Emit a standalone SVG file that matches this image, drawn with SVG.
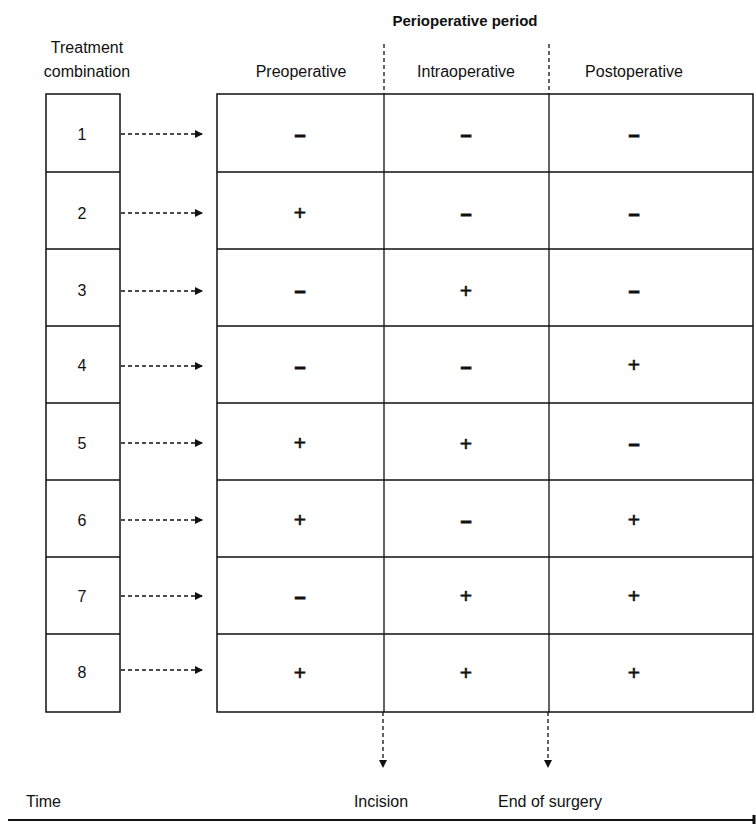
<svg xmlns="http://www.w3.org/2000/svg" width="756" height="824" viewBox="0 0 756 824">
<style>
text{font-family:"Liberation Sans","Arial",sans-serif;fill:#111;}
.lbl{font-size:16px;text-anchor:middle;}
.num{font-size:16px;text-anchor:middle;}
.plus{font-size:21px;text-anchor:middle;stroke:#111;stroke-width:0.6;}
.minus{font-size:20px;font-weight:bold;text-anchor:middle;stroke:#111;stroke-width:0.8;}
.box{fill:#fff;stroke:#111;stroke-width:1.5;}
.grid{stroke:#111;stroke-width:1.3;fill:none;}
.dash{stroke:#111;stroke-width:1.3;stroke-dasharray:4,3;fill:none;}
</style>
<defs>
<marker id="ah" viewBox="0 0 10 10" refX="10" refY="5" markerWidth="10" markerHeight="8" markerUnits="userSpaceOnUse" orient="auto"><path d="M0,0 L10,5 L0,10 z" fill="#111"/></marker>
</defs>
<text x="465" y="26" font-size="15" font-weight="bold" text-anchor="middle">Perioperative period</text>
<text x="87" y="53" class="lbl">Treatment</text>
<text x="87" y="77" class="lbl">combination</text>
<text x="301" y="77" class="lbl">Preoperative</text>
<text x="466" y="77" class="lbl">Intraoperative</text>
<text x="634" y="77" class="lbl">Postoperative</text>

<g id="combos">
<rect x="46" y="94" width="74" height="618" class="box"/>
<path class="grid" d="M46,172H120M46,249H120M46,326H120M46,403H120M46,480H120M46,557H120M46,634H120"/>
<text x="82" y="140" class="num">1</text>
<text x="82" y="219" class="num">2</text>
<text x="82" y="296" class="num">3</text>
<text x="82" y="371" class="num">4</text>
<text x="82" y="449" class="num">5</text>
<text x="82" y="526" class="num">6</text>
<text x="82" y="602" class="num">7</text>
<text x="82" y="678" class="num">8</text>
</g>

<g id="table">
<rect x="217" y="94" width="536" height="618" class="box"/>
<path class="grid" d="M217,172H753M217,249H753M217,326H753M217,403H753M217,480H753M217,557H753M217,634H753M384,94V712M549,94V712"/>
<text x="300" y="141" class="minus">–</text><text x="466" y="141" class="minus">–</text><text x="634" y="141" class="minus">–</text>
<text x="300" y="220" class="plus">+</text><text x="466" y="220" class="minus">–</text><text x="634" y="220" class="minus">–</text>
<text x="300" y="297" class="minus">–</text><text x="466" y="298" class="plus">+</text><text x="634" y="297" class="minus">–</text>
<text x="300" y="373" class="minus">–</text><text x="466" y="373" class="minus">–</text><text x="634" y="372" class="plus">+</text>
<text x="300" y="450" class="plus">+</text><text x="466" y="451" class="plus">+</text><text x="634" y="450" class="minus">–</text>
<text x="300" y="527" class="plus">+</text><text x="466" y="527" class="minus">–</text><text x="634" y="527" class="plus">+</text>
<text x="300" y="603" class="minus">–</text><text x="466" y="603" class="plus">+</text><text x="634" y="603" class="plus">+</text>
<text x="300" y="680" class="plus">+</text><text x="466" y="680" class="plus">+</text><text x="634" y="680" class="plus">+</text>
</g>

<g id="connectors">
<path class="dash" marker-end="url(#ah)" d="M121,134H203"/>
<path class="dash" marker-end="url(#ah)" d="M121,213H203"/>
<path class="dash" marker-end="url(#ah)" d="M121,291H203"/>
<path class="dash" marker-end="url(#ah)" d="M121,366H203"/>
<path class="dash" marker-end="url(#ah)" d="M121,443H203"/>
<path class="dash" marker-end="url(#ah)" d="M121,520H203"/>
<path class="dash" marker-end="url(#ah)" d="M121,596H203"/>
<path class="dash" marker-end="url(#ah)" d="M121,670H203"/>
<path class="dash" d="M384,44V94"/>
<path class="dash" d="M549,44V94"/>
<path class="dash" marker-end="url(#ah)" d="M383,712V768"/>
<path class="dash" marker-end="url(#ah)" d="M548,712V768"/>
<path d="M8,820H754" stroke="#111" stroke-width="2"/>
<path d="M754,815V824" stroke="#111" stroke-width="3"/>
</g>

<text x="26" y="807" font-size="16">Time</text>
<text x="381" y="807" class="lbl">Incision</text>
<text x="550" y="807" class="lbl">End of surgery</text>
</svg>
